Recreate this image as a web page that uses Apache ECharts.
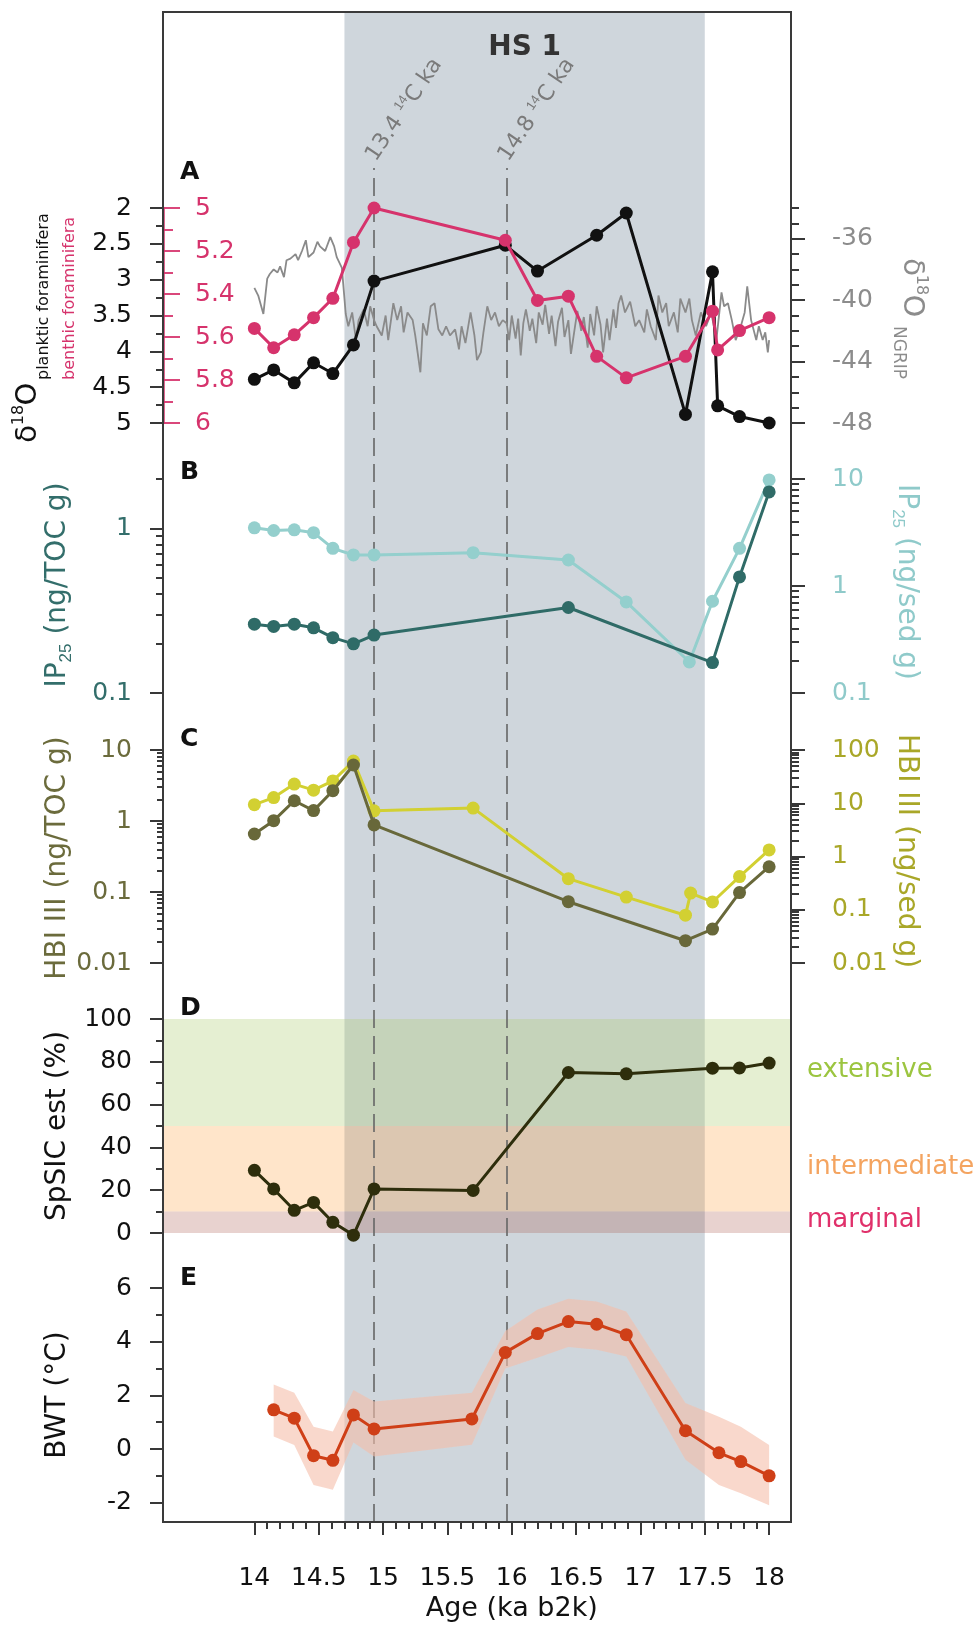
<!DOCTYPE html>
<html><head><meta charset="utf-8">
<script src="https://cdn.jsdelivr.net/npm/echarts/dist/echarts.min.js"></script>
<style>html,body{margin:0;padding:0;background:#fff}#c{width:979px;height:1633px}</style>
</head><body><div id="c"></div><script>
// ---------------- data ----------------
const XMIN = 13.29, XMAX = 18.17;
const HS1 = [14.7, 17.5];
const dashedAges = [14.93, 15.96];
const dashedLabels = ['13.4', '14.8'];

// Panel A
const ageBenthic = [14.00, 14.15, 14.31, 14.46, 14.61, 14.77, 14.93, 15.95, 16.20, 16.44, 16.66, 16.89, 17.35, 17.56, 17.60, 17.77, 18.00];
const benthicD18O = [5.56, 5.65, 5.59, 5.51, 5.42, 5.16, 5.00, 5.15, 5.43, 5.41, 5.69, 5.79, 5.69, 5.48, 5.66, 5.57, 5.51];
const agePlanktic = [14.00, 14.15, 14.31, 14.46, 14.61, 14.77, 14.93, 15.95, 16.20, 16.66, 16.89, 17.35, 17.56, 17.60, 17.77, 18.00];
const plankticD18O = [4.39, 4.26, 4.44, 4.16, 4.31, 3.91, 3.02, 2.52, 2.88, 2.38, 2.07, 4.88, 2.89, 4.76, 4.91, 5.00];
const ngripAge = [14.00,14.03,14.07,14.10,14.12,14.15,14.18,14.20,14.23,14.25,14.28,14.32,14.34,14.37,14.40,14.42,14.46,14.49,14.51,14.55,14.59,14.62,14.64,14.68,14.71,14.73,14.76,14.79,14.81,14.85,14.88,14.90,14.93,14.95,14.99,15.02,15.04,15.08,15.11,15.14,15.16,15.19,15.23,15.25,15.29,15.31,15.34,15.37,15.40,15.43,15.46,15.49,15.52,15.56,15.59,15.61,15.64,15.68,15.71,15.73,15.76,15.78,15.81,15.84,15.87,15.90,15.93,15.96,15.98,16.00,16.03,16.05,16.07,16.09,16.11,16.14,16.16,16.19,16.21,16.24,16.26,16.29,16.31,16.34,16.36,16.39,16.41,16.44,16.46,16.49,16.51,16.54,16.56,16.59,16.61,16.64,16.66,16.69,16.71,16.74,16.76,16.79,16.81,16.83,16.85,16.88,16.92,16.96,16.99,17.03,17.05,17.08,17.12,17.14,17.17,17.20,17.22,17.26,17.29,17.31,17.35,17.38,17.40,17.43,17.47,17.51,17.55,17.59,17.63,17.65,17.68,17.71,17.74,17.78,17.81,17.83,17.86,17.90,17.92,17.95,17.97,17.99,18.00];
const ngripD18O = [-39.2,-39.7,-40.9,-38.6,-38.3,-38.0,-38.2,-37.8,-38.5,-37.4,-37.3,-37.0,-37.4,-36.8,-36.1,-37.2,-36.9,-36.2,-36.5,-36.8,-35.9,-36.5,-37.2,-37.9,-40.9,-41.7,-40.8,-42.6,-41.3,-40.6,-41.7,-40.4,-41.3,-41.7,-42.3,-41.0,-42.6,-40.2,-41.3,-40.4,-42.1,-40.8,-41.3,-42.3,-44.7,-41.5,-42.3,-40.4,-40.2,-41.9,-42.3,-41.7,-42.3,-41.9,-43.2,-41.7,-42.8,-40.8,-42.3,-43.9,-43.4,-42.1,-40.4,-41.3,-40.8,-41.7,-41.3,-41.5,-42.6,-41.0,-42.5,-41.2,-43.6,-41.5,-40.6,-42.0,-41.2,-42.8,-40.8,-41.6,-40.3,-42.2,-41.0,-43.0,-41.4,-40.5,-42.4,-41.3,-43.5,-41.8,-40.7,-42.0,-41.1,-43.1,-40.9,-42.3,-40.4,-41.6,-43.4,-41.2,-42.6,-40.6,-41.8,-40.2,-39.7,-40.8,-40.1,-41.7,-41.3,-42.1,-40.6,-41.7,-42.6,-39.7,-40.8,-40.2,-41.7,-40.8,-42.1,-39.9,-40.8,-39.9,-41.3,-42.3,-40.8,-41.7,-40.8,-42.6,-39.5,-40.4,-40.2,-41.3,-42.6,-41.7,-40.8,-39.1,-41.3,-42.6,-41.7,-42.6,-42.1,-43.4,-42.6];

// Panel B
const ageIP25Sed = [14.00, 14.15, 14.31, 14.46, 14.61, 14.77, 14.93, 15.70, 16.44, 16.89, 17.38, 17.56, 17.77, 18.00];
const ip25Sed = [3.5, 3.3, 3.35, 3.15, 2.25, 1.95, 1.95, 2.05, 1.75, 0.71, 0.195, 0.72, 2.25, 9.8];
const ageIP25Toc = [14.00, 14.15, 14.31, 14.46, 14.61, 14.77, 14.93, 16.44, 17.56, 17.77, 18.00];
const ip25Toc = [0.262, 0.254, 0.262, 0.249, 0.217, 0.199, 0.225, 0.331, 0.153, 0.508, 1.67];

// Panel C
const ageHbiSed = [14.00, 14.15, 14.31, 14.46, 14.61, 14.77, 14.93, 15.70, 16.44, 16.89, 17.35, 17.39, 17.56, 17.77, 18.00];
const hbiSed = [9.4, 12.8, 22.9, 17.6, 26.3, 62, 7.2, 8.1, 0.383, 0.173, 0.079, 0.206, 0.14, 0.42, 1.33];
const ageHbiToc = [14.00, 14.15, 14.31, 14.46, 14.61, 14.77, 14.93, 16.44, 17.35, 17.56, 17.77, 18.00];
const hbiToc = [0.656, 1.01, 1.93, 1.40, 2.67, 6.15, 0.88, 0.073, 0.0206, 0.030, 0.098, 0.227];

// Panel D
const ageSpSIC = [14.00, 14.15, 14.31, 14.46, 14.61, 14.77, 14.93, 15.70, 16.44, 16.89, 17.56, 17.77, 18.00];
const spsic = [29.3, 20.6, 10.6, 14.3, 5.0, -1.0, 20.6, 19.9, 75.0, 74.4, 77.0, 77.1, 79.4];
const sicBands = [[50, 100, 'extensive'], [10, 50, 'intermediate'], [0, 10, 'marginal']];

// Panel E
const ageBWT = [14.15, 14.31, 14.46, 14.61, 14.77, 14.93, 15.69, 15.95, 16.20, 16.44, 16.66, 16.89, 17.35, 17.61, 17.78, 18.00];
const bwt = [1.46, 1.15, -0.25, -0.42, 1.27, 0.75, 1.12, 3.6, 4.3, 4.75, 4.65, 4.26, 0.68, -0.14, -0.47, -1.0];
const bwtHigh = [2.4, 2.1, 0.83, 0.65, 2.2, 1.77, 2.1, 4.4, 5.2, 5.6, 5.5, 5.12, 1.71, 1.2, 0.83, 0.15];
const bwtLow = [0.47, 0.15, -1.34, -1.52, 0.24, -0.28, 0.16, 3.0, 3.4, 3.8, 3.7, 3.45, -0.4, -1.34, -1.65, -2.1];

// Tick values
const xMajor = [14, 14.5, 15, 15.5, 16, 16.5, 17, 17.5, 18];
const plankticTicks = [2, 2.5, 3, 3.5, 4, 4.5, 5];
const plankticMinor = [2.25, 2.75, 3.25, 3.75, 4.25, 4.75];
const benthicTicks = [5, 5.2, 5.4, 5.6, 5.8, 6];
const benthicMinor = [5.1, 5.3, 5.5, 5.7, 5.9];
const ngripTicks = [-48, -44, -40, -36];
const ngripMinor = [-47, -46, -45, -43, -42, -41, -39, -38, -37, -35, -34];
const ipTocTicks = [0.1, 1];
const ipSedTicks = [0.1, 1, 10];
const hbiTocTicks = [0.01, 0.1, 1, 10];
const hbiSedTicks = [0.01, 0.1, 1, 10, 100];
const spsicTicks = [0, 20, 40, 60, 80, 100];
const spsicMinor = [10, 30, 50, 70, 90];
const bwtTicks = [-2, 0, 2, 4, 6];
const bwtMinor = [-1, 1, 3, 5];

function minorsBetween(a, b, step, skipStep) {
  const out = [];
  for (let k = 1; a + k * step < b - 1e-9; k++) {
    const v = +(a + k * step).toFixed(4);
    if (Math.abs(v / skipStep - Math.round(v / skipStep)) > 1e-6) out.push(v);
  }
  return out;
}
function logMinors(e0, e1, maxV) {
  const out = [];
  for (let e = e0; e <= e1; e++) for (let m = 2; m <= 9; m++) {
    const v = +(m * Math.pow(10, e)).toPrecision(3);
    if (maxV === undefined || v <= maxV + 1e-9) out.push(v);
  }
  return out;
}
const xMinor = minorsBetween(14, 18, 0.1, 0.5);

// ---------------- layout ----------------
const FONT = "'DejaVu Sans', sans-serif";
const L = 163, R = 791, W = R - L, FT = 12, FB = 1522, H = 1633;
const DASH_TOP = 168;
const panels = { A: [208, 423], B: [479, 693], C: [750, 963], D: [1019, 1233], E: [1288, FB] };
const TICK = '#222';
const C_PINK = '#d6336c', C_NGRIP = '#8a8a8a', C_LTEAL = '#94cfcd', C_DTEAL = '#2f6b67',
      C_YEL = '#d2d032', C_OLIVE = '#68683a', C_SIC = '#2e2e0c', C_BWT = '#cf3f17';

function gridAt(top, bottom) { return { left: L, width: W, top: top, height: bottom - top }; }
const grids = [gridAt(FT, FB), gridAt(DASH_TOP, FB), gridAt(...panels.A), gridAt(...panels.B), gridAt(...panels.C), gridAt(...panels.D), gridAt(...panels.E)];

const fmt = v => String(+(+v).toPrecision(6));
function mkAxis(grid, c) {
  return {
    gridIndex: grid, type: c.type || 'value', min: c.min, max: c.max, logBase: 10,
    position: c.pos, inverse: !!c.inverse, z: c.z || 0,
    axisLine: c.line ? { show: true, onZero: false, lineStyle: { color: c.line, width: 2.5 } } : { show: false },
    splitLine: { show: false },
    axisTick: { show: true, customValues: c.ticks, length: c.len, inside: !!c.inside,
                lineStyle: { color: c.tickColor || TICK, width: 1.8 } },
    axisLabel: c.labels ? { show: true, customValues: c.ticks, inside: !!c.inside, margin: c.margin,
                color: c.labelColor, fontSize: 25, fontFamily: FONT, formatter: fmt } : { show: false }
  };
}
function hiddenX(g) { return { gridIndex: g, type: 'value', min: XMIN, max: XMAX, show: false }; }

const xAxis = [hiddenX(0), hiddenX(1), hiddenX(2), hiddenX(3), hiddenX(4), hiddenX(5),
  { gridIndex: 6, type: 'value', min: XMIN, max: XMAX, position: 'bottom',
    axisLine: { show: false, onZero: false }, splitLine: { show: false },
    axisTick: { customValues: xMajor, length: 13, lineStyle: { color: TICK, width: 1.8 } },
    axisLabel: { customValues: xMajor, margin: 44, fontSize: 25, fontFamily: FONT, color: '#111', formatter: fmt } },
  { gridIndex: 6, type: 'value', min: XMIN, max: XMAX, position: 'bottom',
    axisLine: { show: false, onZero: false }, splitLine: { show: false },
    axisTick: { customValues: xMinor, length: 7, lineStyle: { color: TICK, width: 1.8 } },
    axisLabel: { show: false } }
];

const yAxis = [
  { gridIndex: 0, type: 'value', min: 0, max: 1, show: false },
  { gridIndex: 1, type: 'value', min: 0, max: 1, show: false },
  // A
  mkAxis(2, { min: 2, max: 5, pos: 'left', inverse: true, ticks: plankticTicks, len: 13, labels: true, labelColor: '#111', margin: 31 }),
  mkAxis(2, { min: 2, max: 5, pos: 'left', inverse: true, ticks: plankticMinor, len: 7 }),
  mkAxis(2, { min: 5, max: 6, pos: 'left', inverse: true, ticks: benthicTicks, len: 17, inside: true, tickColor: C_PINK, labels: true, labelColor: C_PINK, margin: 32, line: C_PINK, z: 20 }),
  mkAxis(2, { min: 5, max: 6, pos: 'left', inverse: true, ticks: benthicMinor, len: 10, inside: true, tickColor: C_PINK }),
  mkAxis(2, { min: -48, max: -34, pos: 'right', ticks: ngripTicks, len: 14, labels: true, labelColor: '#8c8c8c', margin: 41 }),
  mkAxis(2, { min: -48, max: -34, pos: 'right', ticks: ngripMinor, len: 8 }),
  // B
  mkAxis(3, { type: 'log', min: 0.1, max: 2, pos: 'left', ticks: ipTocTicks, len: 13, labels: true, labelColor: '#336e6b', margin: 31 }),
  mkAxis(3, { type: 'log', min: 0.1, max: 2, pos: 'left', ticks: logMinors(-1, 0, 2), len: 7 }),
  mkAxis(3, { type: 'log', min: 0.1, max: 10, pos: 'right', ticks: ipSedTicks, len: 14, labels: true, labelColor: '#8fcaca', margin: 41 }),
  mkAxis(3, { type: 'log', min: 0.1, max: 10, pos: 'right', ticks: logMinors(-1, 0), len: 8 }),
  // C
  mkAxis(4, { type: 'log', min: 0.01, max: 10, pos: 'left', ticks: hbiTocTicks, len: 13, labels: true, labelColor: '#6b6b3c', margin: 31 }),
  mkAxis(4, { type: 'log', min: 0.01, max: 10, pos: 'left', ticks: logMinors(-2, 0), len: 6 }),
  mkAxis(4, { type: 'log', min: 0.01, max: 100, pos: 'right', ticks: hbiSedTicks, len: 14, labels: true, labelColor: '#a9a728', margin: 41 }),
  mkAxis(4, { type: 'log', min: 0.01, max: 100, pos: 'right', ticks: logMinors(-2, 1), len: 8 }),
  // D
  mkAxis(5, { min: 0, max: 100, pos: 'left', ticks: spsicTicks, len: 13, labels: true, labelColor: '#111', margin: 31 }),
  mkAxis(5, { min: 0, max: 100, pos: 'left', ticks: spsicMinor, len: 7 }),
  // E
  mkAxis(6, { min: -2.72, max: 6, pos: 'left', ticks: bwtTicks, len: 13, labels: true, labelColor: '#111', margin: 31 }),
  mkAxis(6, { min: -2.72, max: 6, pos: 'left', ticks: bwtMinor, len: 7 })
];

function pts(ages, vals) { return ages.map((a, i) => [a, vals[i]]); }
function lineSeries(xi, yi, ages, vals, color, z, opts) {
  return Object.assign({
    type: 'line', xAxisIndex: xi, yAxisIndex: yi, data: pts(ages, vals),
    symbol: 'circle', symbolSize: 13, showSymbol: true, clip: false, z: z,
    lineStyle: { color: color, width: 3 }, itemStyle: { color: color },
    emphasis: { disabled: true }, animation: false
  }, opts || {});
}
const dummy = (xi, yi) => ({ type: 'line', xAxisIndex: xi, yAxisIndex: yi, data: [[XMIN, 0]], symbol: 'none', lineStyle: { width: 0 }, silent: true, animation: false });

const bandColors = ['rgba(178,208,123,0.34)', 'rgba(255,153,51,0.26)', 'rgba(163,75,63,0.25)'];

const series = [
  Object.assign(dummy(0, 0), { markArea: { silent: true, z: 1, itemStyle: { color: 'rgba(130,148,162,0.38)' },
    data: [[{ xAxis: HS1[0] }, { xAxis: HS1[1] }]] } }),
  Object.assign(dummy(5, 16), { markArea: { silent: true, z: 2,
    data: sicBands.map((b, i) => [{ yAxis: b[0], itemStyle: { color: bandColors[i] } }, { yAxis: b[1] }]) } }),
  Object.assign(dummy(1, 1), { markLine: { silent: true, z: 3, symbol: ['none', 'none'], label: { show: false },
    lineStyle: { color: '#666', width: 1.6, type: [18, 8] }, data: dashedAges.map(a => ({ xAxis: a })) } }),
  lineSeries(2, 6, ngripAge, ngripD18O, C_NGRIP, 5, { symbol: 'none', showSymbol: false, lineStyle: { color: C_NGRIP, width: 1.8 } }),
  lineSeries(2, 2, agePlanktic, plankticD18O, '#111', 6),
  lineSeries(2, 4, ageBenthic, benthicD18O, C_PINK, 7),
  lineSeries(3, 10, ageIP25Sed, ip25Sed, C_LTEAL, 6),
  lineSeries(3, 8, ageIP25Toc, ip25Toc, C_DTEAL, 7),
  lineSeries(4, 14, ageHbiSed, hbiSed, C_YEL, 6),
  lineSeries(4, 12, ageHbiToc, hbiToc, C_OLIVE, 7),
  lineSeries(5, 16, ageSpSIC, spsic, C_SIC, 6),
  { type: 'custom', xAxisIndex: 6, yAxisIndex: 18, z: 4, clip: false, silent: true, animation: false,
    data: ageBWT.map((a, i) => [a, bwtLow[i], bwtHigh[i]]), encode: { x: 0, y: [1, 2] },
    renderItem: function (params, api) {
      if (params.dataIndex !== 0) return null;
      const poly = [];
      for (let i = 0; i < ageBWT.length; i++) poly.push(api.coord([ageBWT[i], bwtHigh[i]]));
      for (let i = ageBWT.length - 1; i >= 0; i--) poly.push(api.coord([ageBWT[i], bwtLow[i]]));
      return { type: 'polygon', shape: { points: poly }, style: { fill: 'rgba(245,190,170,0.6)' } };
    } },
  lineSeries(6, 18, ageBWT, bwt, C_BWT, 7)
];

const chart = echarts.init(document.getElementById('c'), null, { renderer: 'canvas' });
chart.setOption({ animation: false, textStyle: { fontFamily: FONT }, grid: grids, xAxis: xAxis, yAxis: yAxis, series: series });

// ---------------- texts ----------------
const P2 = Math.PI / 2;
function txt(x, y, text, o) {
  return { type: 'text', x: x, y: y, rotation: o.rot || 0, z: 50, silent: true,
    style: Object.assign({ text: text, fontFamily: FONT, fontSize: 25, fill: '#111', align: 'center', verticalAlign: 'middle' }, o.style || {}) };
}
const subRich = { s: { fontSize: 17, verticalAlign: 'bottom', lineHeight: 18 } };
const els = [];
els.push({ type: 'rect', z: 40, silent: true, shape: { x: L, y: FT, width: W, height: FB - FT }, style: { fill: 'none', stroke: '#3a3a3a', lineWidth: 2 } });
[['A', 172], ['B', 472], ['C', 739], ['D', 1008], ['E', 1278]].forEach(p =>
  els.push(txt(180, p[1], p[0], { style: { fontWeight: 'bold', align: 'left', fontSize: 25 } })));
const hsX = (chart.convertToPixel({ xAxisIndex: 0 }, HS1[0]) + chart.convertToPixel({ xAxisIndex: 0 }, HS1[1])) / 2;
els.push(txt(hsX, 48, 'HS 1', { style: { fontWeight: 'bold', fontSize: 28, fill: '#333' } }));
dashedAges.forEach((a, i) => {
  const px = chart.convertToPixel({ xAxisIndex: 1 }, a);
  els.push(txt(px - 3, DASH_TOP - 9, dashedLabels[i] + ' {p|14}C ka', { rot: 56 * Math.PI / 180,
    style: { align: 'left', fontSize: 22, fill: '#7a7a7a', lineHeight: 26, rich: { p: { fontSize: 13, verticalAlign: 'top', lineHeight: 14 } } } }));
});
// Panel A left title
els.push(txt(28, 434, 'δ', { rot: P2, style: { fontSize: 29 } }));
els.push(txt(19, 415, '18', { rot: P2, style: { fontSize: 16 } }));
els.push(txt(28, 394, 'O', { rot: P2, style: { fontSize: 29 } }));
els.push(txt(44, 380, 'planktic foraminifera', { rot: P2, style: { fontSize: 16, align: 'left' } }));
els.push(txt(70, 380, 'benthic foraminifera', { rot: P2, style: { fontSize: 16, align: 'left', fill: C_PINK } }));
// Panel A right title
els.push(txt(912, 267, 'δ', { rot: -P2, style: { fontSize: 29, fill: '#8c8c8c' } }));
els.push(txt(921, 285, '18', { rot: -P2, style: { fontSize: 16, fill: '#8c8c8c' } }));
els.push(txt(912, 306, 'O', { rot: -P2, style: { fontSize: 29, fill: '#8c8c8c' } }));
els.push(txt(898, 326, 'NGRIP', { rot: -P2, style: { fontSize: 17, align: 'left', fill: '#8c8c8c' } }));
// other axis titles
els.push(txt(58, 585, 'IP{s|25} (ng/TOC g)', { rot: P2, style: { fontSize: 28, fill: '#336e6b', lineHeight: 34, rich: subRich } }));
els.push(txt(58, 858, 'HBI III (ng/TOC g)', { rot: P2, style: { fontSize: 28, fill: '#6b6b3c' } }));
els.push(txt(58, 1126, 'SpSIC est (%)', { rot: P2, style: { fontSize: 28 } }));
els.push(txt(58, 1395, 'BWT (°C)', { rot: P2, style: { fontSize: 28 } }));
els.push(txt(906, 582, 'IP{s|25} (ng/sed g)', { rot: -P2, style: { fontSize: 28, fill: '#8fcaca', lineHeight: 34, rich: subRich } }));
els.push(txt(906, 851, 'HBI III (ng/sed g)', { rot: -P2, style: { fontSize: 28, fill: '#a9a728' } }));
// band labels
const bandLabelColors = ['#9cc540', '#f4a460', '#e0306a'];
const bandLabelY = [1070, 1167, 1220];
sicBands.forEach((b, i) => els.push(txt(807, bandLabelY[i], b[2], { style: { fontSize: 26, align: 'left', fill: bandLabelColors[i] } })));
// x title
els.push(txt(chart.convertToPixel({ xAxisIndex: 6 }, 16), 1609, 'Age (ka b2k)', { style: { fontSize: 27 } }));

chart.setOption({ graphic: { elements: els } });
</script></body></html>
